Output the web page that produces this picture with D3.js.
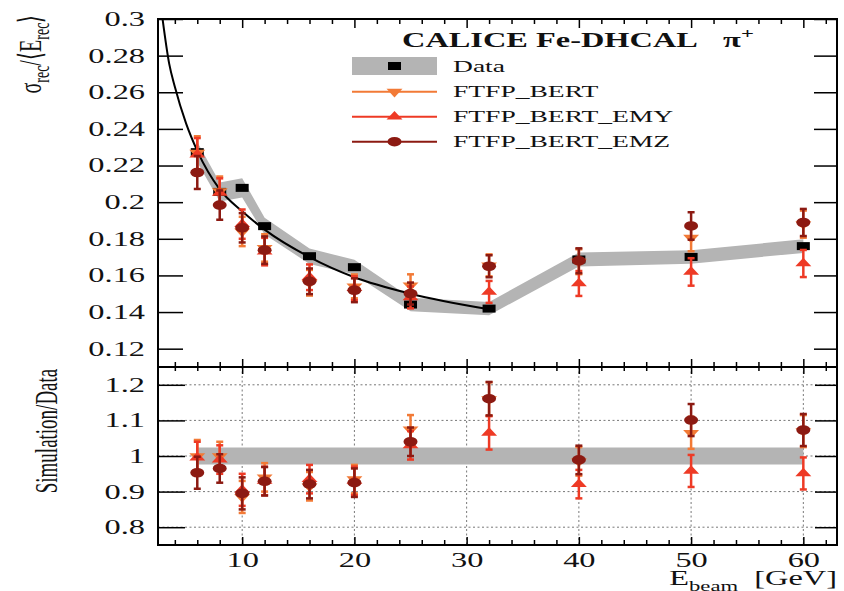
<!DOCTYPE html>
<html>
<head>
  <title>CALICE Fe-DHCAL pion resolution</title>
  <style>
    body { margin: 0; background: #fff; }
    text { font-family: "Liberation Serif", "Times New Roman", serif; fill: #111; }
  </style>
</head>
<body>
<script src="https://cdn.jsdelivr.net/npm/d3@7"></script>
<script type="text/javascript">

// beam energies [GeV]
var energies = [6, 8, 10, 12, 16, 20, 25, 32, 40, 50, 60];

// top panel: sigma_rec / <E_rec>
var dataRes = [0.2273, 0.2056, 0.2078, 0.1869, 0.1705, 0.1645, 0.1441, 0.1419, 0.1687, 0.1701, 0.1760];
var dataSys = [0.0055, 0.0052, 0.0052, 0.0046, 0.0042, 0.0040, 0.0037, 0.0036, 0.0038, 0.0037, 0.0037];
var bertRes = [0.2270, 0.2060, 0.1840, 0.1750, 0.1560, 0.1540, 0.1546, 0.1655, 0.1675, 0.1807, 0.1880];
var emyRes  = [0.2260, 0.2050, 0.1880, 0.1730, 0.1590, 0.1530, 0.1480, 0.1510, 0.1556, 0.1619, 0.1665];
var emzRes  = [0.2162, 0.1984, 0.1860, 0.1738, 0.1568, 0.1519, 0.1501, 0.1650, 0.1680, 0.1870, 0.1889];
var simErrTop = [0.0090, 0.0080, 0.0080, 0.0075, 0.0070, 0.0065, 0.0060, 0.0060, 0.0068, 0.0075, 0.0074];

// fit curve
var fitE = [2.8, 3.5, 4, 5, 6, 8, 10, 12, 16, 20, 25, 32];
var fitV = [0.305, 0.2755, 0.263, 0.243, 0.228, 0.207, 0.195, 0.185, 0.170, 0.159, 0.150, 0.1415];

// bottom panel: simulation / data
var bertRatio = [1.000, 1.000, 0.885, 0.940, 0.915, 0.935, 1.075, 1.160, 0.985, 1.065, 1.070];
var emyRatio  = [0.995, 0.990, 0.905, 0.930, 0.935, 0.930, 1.030, 1.065, 0.921, 0.958, 0.951];
var emzRatio  = [0.953, 0.965, 0.895, 0.929, 0.921, 0.925, 1.040, 1.161, 0.989, 1.101, 1.073];
var simErrRatio = [0.045, 0.040, 0.045, 0.040, 0.040, 0.040, 0.040, 0.047, 0.040, 0.045, 0.045];
var ratioBand = [0.976, 1.024];

// ticks
var topYTicks = [0.12, 0.14, 0.16, 0.18, 0.2, 0.22, 0.24, 0.26, 0.28, 0.3];
var ratioTicks = [0.8, 0.9, 1, 1.1, 1.2];
var majorX = [10, 20, 30, 40, 50, 60];
var minorX = [4, 6, 8, 12, 14, 16, 18, 22, 24, 26, 28, 32, 34, 36, 38, 42, 44, 46, 48, 52, 54, 56, 58, 62];

var series = [
  {name: 'FTFP_BERT',     color: '#f27a36', shape: 'down',   top: bertRes, ratio: bertRatio},
  {name: 'FTFP_BERT_EMY', color: '#ee3a25', shape: 'up',     top: emyRes,  ratio: emyRatio},
  {name: 'FTFP_BERT_EMZ', color: '#8c1a12', shape: 'circle', top: emzRes,  ratio: emzRatio}
];

var SX = 1.62;   // picture is stretched sideways

var svg = d3.select('body').append('svg').attr('width', 844).attr('height', 591);

var x    = d3.scaleLinear().domain([2.5, 63]).range([158, 837]),
    yTop = d3.scaleLinear().domain([0.11, 0.3]).range([367, 19]),
    yBot = d3.scaleLinear().domain([0.75, 1.25]).range([545, 367]);

svg.append('clipPath').attr('id', 'clipTop')
   .append('rect').attr('x', 158).attr('y', 19).attr('width', 679).attr('height', 348);

function label(x0, y0, str, size, anchor, weight){
  return svg.append('text')
    .attr('transform', 'translate(' + x0 + ',' + y0 + ') scale(' + SX + ',1)')
    .attr('font-size', size)
    .attr('text-anchor', anchor || 'start')
    .attr('font-weight', weight || 'normal')
    .text(str);
}

function styleAxis(g){
  g.select('.domain').remove();
  g.selectAll('line').attr('stroke', '#000').attr('stroke-width', 1.5);
  g.attr('font-size', 20);
  g.selectAll('text').attr('transform', 'scale(' + SX + ',1)');
}

function addAxis(axis, tx, ty){
  svg.append('g').attr('transform', 'translate(' + tx + ',' + ty + ')').call(axis).call(styleAxis);
}

// grid in ratio panel
var grid = svg.append('g').attr('stroke', '#777').attr('stroke-width', 1).attr('stroke-dasharray', '2,2.5');
grid.selectAll('line.h').data(ratioTicks).enter().append('line')
    .attr('x1', 158).attr('x2', 837).attr('y1', yBot).attr('y2', yBot);
grid.selectAll('line.v').data(majorX).enter().append('line')
    .attr('y1', 367).attr('y2', 545).attr('x1', x).attr('x2', x);

// systematic band of data
var band = energies.map(function(e, i){ return {e: e, lo: dataRes[i] - dataSys[i], hi: dataRes[i] + dataSys[i]}; });
svg.append('path')
   .datum(band)
   .attr('clip-path', 'url(#clipTop)')
   .attr('fill', '#b4b4b4')
   .attr('d', d3.area().x(function(d){ return x(d.e); }).y0(function(d){ return yTop(d.lo); }).y1(function(d){ return yTop(d.hi); }));

svg.append('path')
   .datum(energies)
   .attr('fill', '#b4b4b4')
   .attr('d', d3.area().x(function(d){ return x(d); }).y0(yBot(ratioBand[0])).y1(yBot(ratioBand[1])));

// fit curve
svg.append('path')
   .datum(fitE.map(function(e, i){ return [e, fitV[i]]; }))
   .attr('clip-path', 'url(#clipTop)')
   .attr('fill', 'none')
   .attr('stroke', '#000')
   .attr('stroke-width', 2)
   .attr('d', d3.line().x(function(d){ return x(d[0]); }).y(function(d){ return yTop(d[1]); }).curve(d3.curveMonotoneX));

// data squares
svg.selectAll('rect.data')
   .data(energies)
   .enter()
   .append('rect')
   .attr('x', function(d){ return x(d) - 6.5; })
   .attr('y', function(d, i){ return yTop(dataRes[i]) - 4; })
   .attr('width', 13)
   .attr('height', 8)
   .attr('fill', '#000');

function marker(g, shape, cx, cy, color){
  if(shape === 'circle'){
    return g.append('ellipse').attr('cx', cx).attr('cy', cy).attr('rx', 7).attr('ry', 4.8).attr('fill', color);
  }
  return g.append('path')
    .attr('d', d3.symbol().type(d3.symbolTriangle).size(42)())
    .attr('transform', 'translate(' + cx + ',' + cy + ') scale(' + SX + ',1)' + (shape === 'down' ? ' rotate(180)' : ''))
    .attr('fill', color);
}

function drawSim(s, values, errs, y){
  var g = svg.append('g').attr('stroke', s.color).attr('stroke-width', 2.5);
  energies.forEach(function(e, i){
    var cx = x(e), top = y(values[i] + errs[i]), bot = y(values[i] - errs[i]);
    g.append('line').attr('x1', cx).attr('x2', cx).attr('y1', top).attr('y2', bot);
    g.append('line').attr('x1', cx - 3.5).attr('x2', cx + 3.5).attr('y1', top).attr('y2', top);
    g.append('line').attr('x1', cx - 3.5).attr('x2', cx + 3.5).attr('y1', bot).attr('y2', bot);
    marker(g, s.shape, cx, y(values[i]), s.color).attr('stroke', 'none');
  });
}

series.forEach(function(s){
  drawSim(s, s.top, simErrTop, yTop);
  drawSim(s, s.ratio, simErrRatio, yBot);
});

// frames
svg.append('rect').attr('x', 158).attr('y', 19).attr('width', 679).attr('height', 348)
   .attr('fill', 'none').attr('stroke', '#000').attr('stroke-width', 2);
svg.append('rect').attr('x', 158).attr('y', 367).attr('width', 679).attr('height', 178)
   .attr('fill', 'none').attr('stroke', '#000').attr('stroke-width', 2);

// axes, top panel
addAxis(d3.axisLeft(yTop).tickValues(topYTicks).tickSize(-25).tickPadding(8).tickFormat(d3.format('~g')), 158, 0);
addAxis(d3.axisRight(yTop).tickValues(topYTicks).tickSize(-23).tickFormat(''), 837, 0);
addAxis(d3.axisBottom(x).tickValues(minorX).tickSize(5).tickFormat(''), 0, 19);
addAxis(d3.axisBottom(x).tickValues(majorX).tickSize(9).tickFormat(''), 0, 19);
addAxis(d3.axisTop(x).tickValues(minorX).tickSize(5).tickFormat(''), 0, 367);
addAxis(d3.axisTop(x).tickValues(majorX).tickSize(8).tickFormat(''), 0, 367);

// axes, ratio panel
addAxis(d3.axisBottom(x).tickValues(minorX).tickSize(4).tickFormat(''), 0, 367);
addAxis(d3.axisBottom(x).tickValues(majorX).tickSize(7).tickFormat(''), 0, 367);
addAxis(d3.axisBottom(x).tickValues(minorX).tickSize(-5).tickFormat(''), 0, 545);
addAxis(d3.axisBottom(x).tickValues(majorX).tickSize(-8).tickPadding(8), 0, 545);
addAxis(d3.axisLeft(yBot).tickValues(ratioTicks).tickSize(-27).tickPadding(8).tickFormat(d3.format('~g')), 158, 0);
addAxis(d3.axisRight(yBot).tickValues(ratioTicks).tickSize(-22).tickFormat(''), 837, 0);

// axis titles
var xt = svg.append('text')
   .attr('transform', 'translate(837,585) scale(' + SX + ',1)')
   .attr('text-anchor', 'end')
   .attr('font-size', 20);
xt.append('tspan').text('E');
xt.append('tspan').attr('font-size', 14).attr('dy', 6).text('beam');
xt.append('tspan').attr('dy', -6).text('\u00a0\u00a0[GeV]');

var yt = svg.append('text')
   .attr('transform', 'translate(41,54) scale(' + SX + ',1) rotate(-90)')
   .attr('text-anchor', 'middle')
   .attr('font-size', 20);
yt.append('tspan').text('\u03c3');
yt.append('tspan').attr('font-size', 14).attr('dy', 5).text('rec');
yt.append('tspan').attr('dy', -5).text('/\u27e8E');
yt.append('tspan').attr('font-size', 14).attr('dy', 5).text('rec');
yt.append('tspan').attr('dy', -5).text('\u27e9');

svg.append('text')
   .attr('transform', 'translate(57,431) scale(' + SX + ',1) rotate(-90)')
   .attr('text-anchor', 'middle')
   .attr('font-size', 19)
   .text('Simulation/Data');

// title and legend
label(402, 47, 'CALICE Fe-DHCAL', 20, 'start', 'bold');
label(723, 47, '\u03c0', 20, 'start', 'bold');
label(741, 38, '+', 14, 'start', 'bold');

svg.append('rect').attr('x', 352).attr('y', 57).attr('width', 85).attr('height', 18).attr('fill', '#b4b4b4');
svg.append('rect').attr('x', 388).attr('y', 62).attr('width', 13).attr('height', 8).attr('fill', '#000');
label(453, 72, 'Data', 17);

series.forEach(function(s, i){
  var ly = 91.7 + i * 25;
  svg.append('line').attr('x1', 352).attr('x2', 437).attr('y1', ly).attr('y2', ly)
     .attr('stroke', s.color).attr('stroke-width', 2);
  marker(svg, s.shape, 394.5, ly, s.color);
  label(453, ly + 5, s.name, 17);
});

</script>
</body>
</html>
